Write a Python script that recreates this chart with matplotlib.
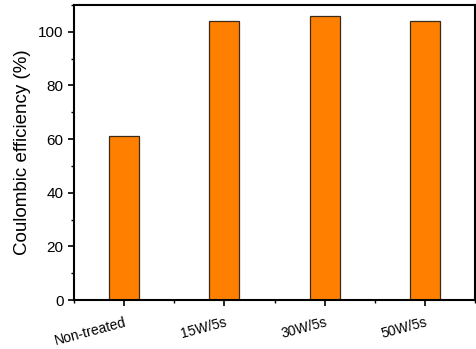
import matplotlib
matplotlib.use("Agg")
import matplotlib.pyplot as plt
from matplotlib.ticker import MultipleLocator

plt.rcParams['font.family'] = ['Liberation Sans', 'DejaVu Sans']

categories = ["Non-treated", "15W/5s", "30W/5s", "50W/5s"]
efficiency = [61, 104, 106, 104]

fig = plt.figure(figsize=(4.77, 3.49), dpi=100)
ax = fig.add_axes([0.155, 0.1404, 0.841, 0.8453])

x = range(len(categories))
ax.bar(x, efficiency, width=0.3, color="#FF8000", edgecolor="#3a2a1a", linewidth=0.9)

ax.set_xlim(-0.5, len(categories) - 0.5)
ax.set_ylim(0, 110)
ax.set_xticks(list(x))
ax.set_xticklabels(categories, rotation=15, fontsize=10, ha='right', va='top',
                   rotation_mode='anchor')
ax.xaxis.set_minor_locator(MultipleLocator(0.5))
ax.yaxis.set_major_locator(MultipleLocator(20))
ax.yaxis.set_minor_locator(MultipleLocator(10))
ax.tick_params(axis='y', which='major', labelsize=11, length=4, width=1.2, direction='out')
ax.tick_params(axis='y', which='minor', length=2.5, width=1.0, direction='out')
ax.tick_params(axis='x', which='major', length=4, width=1.2, direction='out', pad=7)
ax.tick_params(axis='x', which='minor', length=2, width=1.0, direction='out')
for s in ax.spines.values():
    s.set_linewidth(1.5)

ax.set_ylabel("Coulombic efficiency (%)", fontsize=13.5, labelpad=5)

fig.savefig("out.png", dpi=100)
